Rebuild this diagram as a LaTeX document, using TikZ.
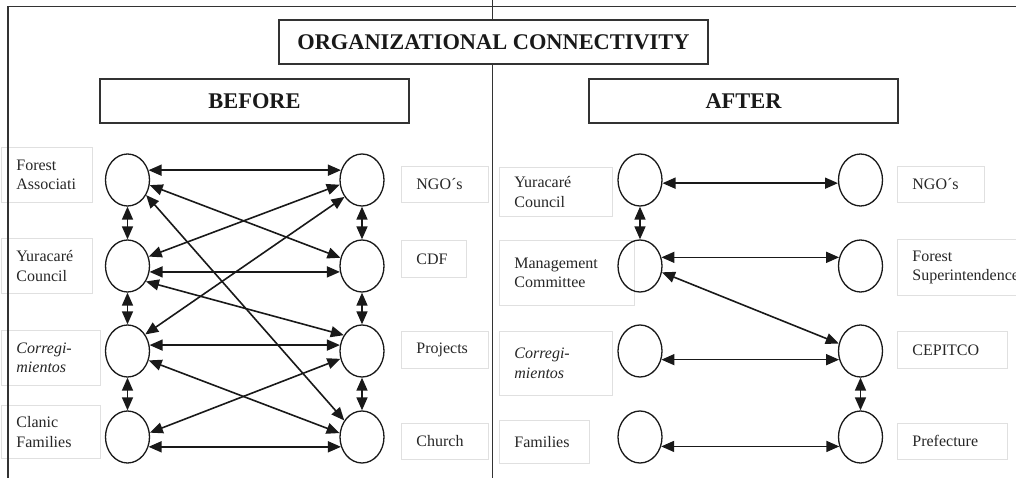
\documentclass[tikz,border=0pt]{standalone}
\usepackage{fontspec}
\setmainfont{Liberation Serif}
\usetikzlibrary{arrows.meta,shapes.geometric}
\begin{document}
\begin{tikzpicture}[x=1pt,y=-1pt,
  circ/.style={draw=black!90, line width=1.3pt, ellipse, minimum width=44pt, minimum height=52pt, inner sep=0pt},
  lnk/.style={line width=1.6pt, draw=black!90, {Triangle[length=13pt,width=11pt]}-{Triangle[length=13pt,width=11pt]}},
  hdr/.style={draw=black!80, line width=1.3pt, fill=white, font=\bfseries\fontsize{22.4}{25}\selectfont, text=black!90, inner sep=0pt, minimum height=44pt},
  lbl/.style={draw=black!12, line width=0.8pt, anchor=north west, align=left, inner xsep=15pt, inner ysep=0pt, font=\fontsize{16}{19.5}\selectfont, text=black!85},
  frame/.style={line width=1.4pt, draw=black!80}]
\useasboundingbox (0,0) rectangle (1016,478);

% label boxes, BEFORE
\node[lbl, text width=61pt, minimum height=55pt] (lfa) at (1,147) {Forest\\Associati};
\node[lbl, text width=61pt, minimum height=55pt] (lyc) at (1,238) {Yuracaré\\Council};
\node[lbl, text width=69pt, minimum height=55pt] (lco) at (1,330) {\textit{Corregi-}\\\textit{mientos}};
\node[lbl, text width=69pt, minimum height=53pt] (lcf) at (1,405) {Clanic\\Families};
\node[lbl, text width=57pt, minimum height=36pt] (rngo) at (401,166) {NGO´s};
\node[lbl, text width=35pt, minimum height=37pt] (rcdf) at (401,240) {CDF};
\node[lbl, text width=57pt, minimum height=37pt] (rpr) at (401,331) {Projects};
\node[lbl, text width=57pt, minimum height=36pt] (rch) at (401,423) {Church};
% label boxes, AFTER
\node[lbl, text width=83pt, minimum height=49pt] (ayc) at (499,167) {Yuracaré\\Council};
\node[lbl, text width=105pt, minimum height=65pt] (amc) at (499,240) {Management\\Committee};
\node[lbl, text width=83pt, minimum height=64pt] (aco) at (499,331) {\textit{Corregi-}\\\textit{mientos}};
\node[lbl, text width=60pt, minimum height=43pt] (afa) at (499,420) {Families};
\node[lbl, text width=57pt, minimum height=36pt] (bngo) at (897,166) {NGO´s};
\node[lbl, text width=130pt, minimum height=56pt] (bfs) at (897,239) {Forest\\Superintendence};
\node[lbl, text width=80pt, minimum height=37pt] (bce) at (897,331) {CEPITCO};
\node[lbl, text width=80pt, minimum height=36pt] (bpr) at (897,423) {Prefecture};

% frame
\draw[frame] (8,478) -- (8,6.5) -- (1016,6.5);
\draw[frame] (492.7,0) -- (492.7,478);

% headers
\node[hdr, minimum width=429pt] (title) at (493.5,42) {ORGANIZATIONAL CONNECTIVITY};
\node[hdr, minimum width=309pt] (before) at (254.5,101) {BEFORE};
\node[hdr, minimum width=309pt] (after) at (743.5,101) {AFTER};

% circles BEFORE
\node[circ] (L1) at (127.5,180) {};
\node[circ] (L2) at (127.5,266) {};
\node[circ] (L3) at (127.5,351) {};
\node[circ] (L4) at (127.5,437) {};
\node[circ] (R1) at (362,180) {};
\node[circ] (R2) at (362,266) {};
\node[circ] (R3) at (362,351) {};
\node[circ] (R4) at (362,437) {};
% circles AFTER
\node[circ] (A1) at (640,180) {};
\node[circ] (A2) at (640,266) {};
\node[circ] (A3) at (640,351) {};
\node[circ] (A4) at (640,437) {};
\node[circ] (B1) at (860.5,180) {};
\node[circ] (B2) at (860.5,266) {};
\node[circ] (B3) at (860.5,351) {};
\node[circ] (B4) at (860.5,437) {};

% BEFORE links
\draw[lnk] (L1.25) -- (R1.155);
\draw[lnk] (L1.-13) -- (R2.159);
\draw[lnk] (L1.-39) -- (R4.137);
\draw[lnk] (R1.192) -- (L2.24);
\draw[lnk] (R1.224) -- (L3.43);
\draw[lnk] (L2.-15) -- (R2.195);
\draw[lnk] (L2.-40) -- (R3.139);
\draw[lnk] (L3.15) -- (R3.165);
\draw[lnk] (L3.-24) -- (R4.170);
\draw[lnk] (R3.200) -- (L4.11);
\draw[lnk] (L4.-25) -- (R4.205);
\draw[lnk] (L1.south) -- (L2.north);
\draw[lnk] (L2.south) -- (L3.north);
\draw[lnk] (L3.south) -- (L4.north);
\draw[lnk] (R1.south) -- (R2.north);
\draw[lnk] (R2.south) -- (R3.north);
\draw[lnk] (R3.south) -- (R4.north);

% AFTER links
\draw[lnk] (A1.-8) -- (B1.188);
\draw[lnk] (A1.south) -- (A2.north);
\draw[lnk] (A2.22) -- (B2.158);
\draw[lnk] (A2.-16) -- (B3.161);
\draw[lnk] (A3.-22) -- (B3.202);
\draw[lnk] (B3.south) -- (B4.north);
\draw[lnk] (A4.-24) -- (B4.204);
\end{tikzpicture}
\end{document}
